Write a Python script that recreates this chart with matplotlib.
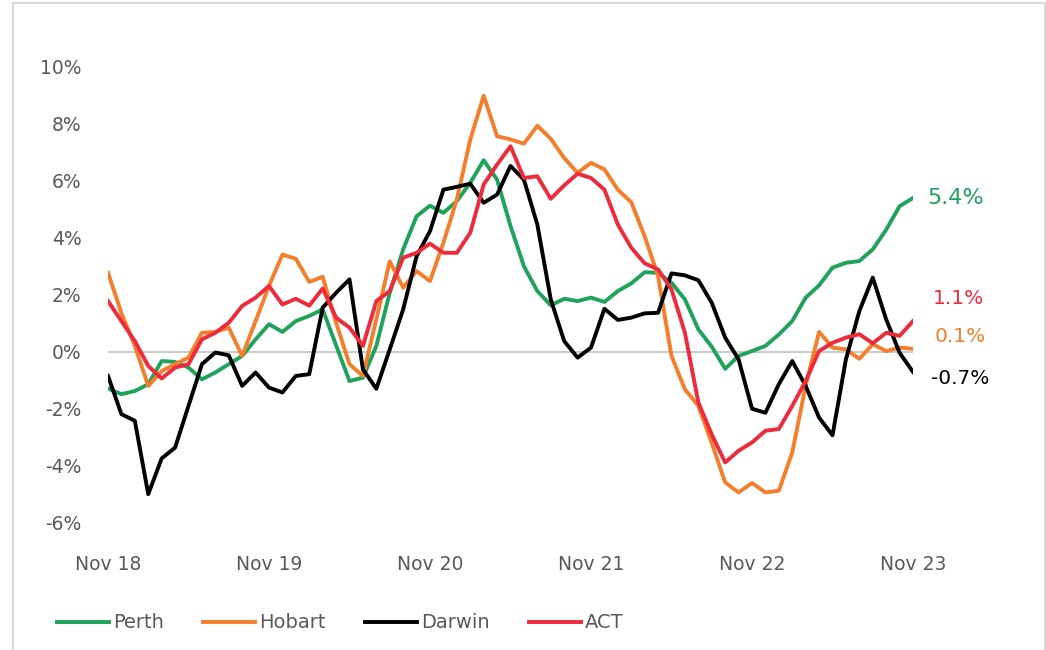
import matplotlib
matplotlib.use("Agg")
import matplotlib.pyplot as plt
from matplotlib.patches import Rectangle

# monthly annual change (%), Nov 18 .. Nov 23
perth = [-1.29, -1.49, -1.38, -1.14, -0.33, -0.36, -0.56, -0.97, -0.73, -0.44,
         -0.15, 0.43, 0.96, 0.69, 1.07, 1.25, 1.48, 0.22, -1.03, -0.91,
         0.20, 2.06, 3.58, 4.74, 5.11, 4.86, 5.27, 5.91, 6.70, 6.02,
         4.40, 2.99, 2.12, 1.62, 1.85, 1.77, 1.89, 1.74, 2.12, 2.39,
         2.78, 2.76, 2.41, 1.83, 0.78, 0.17, -0.60, -0.15, 0.02, 0.20,
         0.60, 1.07, 1.89, 2.32, 2.94, 3.11, 3.17, 3.58, 4.27, 5.09, 5.38]
hobart = [2.76, 1.35, 0.20, -1.20, -0.68, -0.44, -0.21, 0.66, 0.69, 0.84,
          -0.15, 1.07, 2.30, 3.40, 3.25, 2.44, 2.62, 1.01, -0.44, -0.85,
          1.13, 3.16, 2.24, 2.82, 2.47, 3.81, 5.33, 7.42, 8.96, 7.54,
          7.43, 7.28, 7.91, 7.45, 6.78, 6.26, 6.61, 6.38, 5.67, 5.23,
          4.04, 2.64, -0.15, -1.32, -1.90, -3.20, -4.58, -4.93, -4.60, -4.93,
          -4.87, -3.53, -1.20, 0.69, 0.14, 0.08, -0.25, 0.26, 0.02, 0.14, 0.10]
darwin = [-0.85, -2.19, -2.42, -4.99, -3.74, -3.36, -1.90, -0.44, -0.03, -0.13,
          -1.20, -0.73, -1.26, -1.43, -0.85, -0.79, 1.54, 2.06, 2.53, -0.62,
          -1.30, 0.08, 1.48, 3.34, 4.22, 5.67, 5.77, 5.88, 5.21, 5.50,
          6.50, 6.02, 4.45, 1.83, 0.37, -0.21, 0.14, 1.50, 1.11, 1.19,
          1.34, 1.36, 2.74, 2.67, 2.50, 1.71, 0.49, -0.27, -2.00, -2.14,
          -1.14, -0.33, -1.20, -2.31, -2.93, -0.27, 1.42, 2.59, 1.13, -0.04, -0.71]
act = [1.77, 1.07, 0.37, -0.50, -0.94, -0.56, -0.44, 0.43, 0.66, 1.01,
       1.60, 1.89, 2.30, 1.65, 1.85, 1.61, 2.21, 1.19, 0.84, 0.20,
       1.77, 2.12, 3.29, 3.46, 3.78, 3.46, 3.46, 4.16, 5.85, 6.55,
       7.19, 6.08, 6.14, 5.35, 5.82, 6.23, 6.08, 5.67, 4.45, 3.64,
       3.09, 2.88, 2.18, 0.66, -1.78, -2.90, -3.88, -3.47, -3.18, -2.77,
       -2.71, -1.90, -1.03, 0.02, 0.31, 0.49, 0.61, 0.29, 0.66, 0.55, 1.07]

series = ["Perth", "Hobart", "Darwin", "ACT"]
colors = ["#1fa35a", "#f47e2c", "#000000", "#ee2a3b"]
end_labels = ["5.4%", "0.1%", "-0.7%", "1.1%"]
tick_labels = ["Nov 18", "Nov 19", "Nov 20", "Nov 21", "Nov 22", "Nov 23"]

plt.rcParams["font.family"] = ["DejaVu Sans"]

fig = plt.figure(figsize=(10.46, 6.5), dpi=100)
ax = fig.add_axes([108 / 1046, 127 / 650, 805 / 1046, 457 / 650])

months = list(range(len(perth)))
ax.axhline(0, color="#c0c0c0", lw=1.2, zorder=1)
for name, vals, c in zip(series, [perth, hobart, darwin, act], colors):
    ax.plot(months, vals, color=c, lw=2.8, label=name, zorder=3)

# end-of-line value labels: (dx pt, dy pt, size)
offsets = {"Perth": (31, 0, 16), "Hobart": (34, 9, 14.5),
           "Darwin": (34, -5, 14.5), "ACT": (33, 16, 14.5)}
for name, vals, c, lab in zip(series, [perth, hobart, darwin, act], colors, end_labels):
    dx, dy, fs = offsets[name]
    ax.annotate(lab, xy=(months[-1], vals[-1]), xytext=(dx, dy),
                textcoords="offset points", ha="center", va="center",
                color=c, fontsize=fs)

ax.set_xlim(0, 60)
ax.set_ylim(-6, 10)
ax.set_xticks(range(0, 61, 12))
ax.set_xticklabels(tick_labels)
ax.set_yticks(range(-6, 11, 2))
ax.set_yticklabels([f"{v}%" for v in range(-6, 11, 2)])
ax.tick_params(axis="both", length=0, labelsize=13.5, labelcolor="#595959")
ax.tick_params(axis="y", pad=19)
ax.tick_params(axis="x", pad=23)
for s in ax.spines.values():
    s.set_visible(False)

fig.legend(loc="center left", bbox_to_anchor=(47 / 1046, 1 - 623 / 650),
           ncol=4, frameon=False, fontsize=14, handlelength=2.7,
           handletextpad=0.2, columnspacing=2.0, borderpad=0,
           labelcolor="#595959")

fig.patches.append(Rectangle((13 / 1046, -0.01), 1032 / 1046, 1.01 - 3 / 650,
                             transform=fig.transFigure, fill=False,
                             edgecolor="#d9d9d9", lw=1.5))

fig.savefig("out.png", dpi=100)
